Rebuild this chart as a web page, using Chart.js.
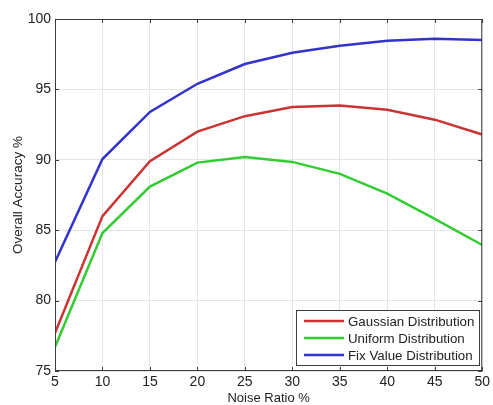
<!DOCTYPE html>
<html>
<head>
<meta charset="utf-8">
<script src="https://cdn.jsdelivr.net/npm/chart.js@4/dist/chart.umd.min.js"></script>
<style>
  html, body { margin: 0; padding: 0; background: #fff; }
  #wrap { width: 493px; height: 405px; position: relative; }
</style>
</head>
<body>
<div id="wrap"><canvas id="chart" width="493" height="405"></canvas></div>
<script>
// data
const noiseRatio = [5, 10, 15, 20, 25, 30, 35, 40, 45, 50];
const gaussian = [77.7, 86.0, 89.9, 92.0, 93.1, 93.75, 93.85, 93.55, 92.85, 91.8];
const uniform = [76.7, 84.8, 88.1, 89.8, 90.2, 89.85, 89.0, 87.6, 85.8, 83.95];
const fixValue = [82.75, 90.05, 93.4, 95.4, 96.8, 97.6, 98.1, 98.45, 98.6, 98.5];
const seriesLabels = ['Gaussian Distribution', 'Uniform Distribution', 'Fix Value Distribution'];
const seriesColors = ['#cc3333', '#33cc33', '#3333cc'];

const FONT = '"Liberation Sans", Arial, sans-serif';
const toPoints = (ys) => noiseRatio.map((x, i) => ({ x: x, y: ys[i] }));

// box around plot, inward ticks, legend in lower right
const boxPlugin = {
    id: 'boxPlugin',
    afterDatasetsDraw(chart) {
        const { ctx, chartArea: a, scales } = chart;
        ctx.save();
        ctx.strokeStyle = '#3c3c3c';
        ctx.lineWidth = 1;
        ctx.strokeRect(a.left + 0.5, a.top + 0.5, a.right - a.left - 1, a.bottom - a.top - 1);

        const tl = 4;
        ctx.beginPath();
        scales.x.ticks.forEach(t => {
            const px = Math.round(scales.x.getPixelForValue(t.value)) + 0.5;
            ctx.moveTo(px, a.bottom); ctx.lineTo(px, a.bottom - tl);
            ctx.moveTo(px, a.top); ctx.lineTo(px, a.top + tl);
        });
        scales.y.ticks.forEach(t => {
            const py = Math.round(scales.y.getPixelForValue(t.value)) + 0.5;
            ctx.moveTo(a.left, py); ctx.lineTo(a.left + tl, py);
            ctx.moveTo(a.right, py); ctx.lineTo(a.right - tl, py);
        });
        ctx.stroke();

        // legend
        const lx = 296, ly = 310, lw = 183, lh = 55;
        ctx.fillStyle = '#fff';
        ctx.fillRect(lx, ly, lw, lh);
        ctx.strokeStyle = '#3c3c3c';
        ctx.strokeRect(lx + 0.5, ly + 0.5, lw, lh);
        ctx.font = '13.3px ' + FONT;
        ctx.textBaseline = 'middle';
        chart.data.datasets.forEach((ds, i) => {
            const y = ly + 11 + i * 17;
            ctx.strokeStyle = ds.borderColor;
            ctx.lineWidth = 2.5;
            ctx.beginPath();
            ctx.moveTo(lx + 8, y); ctx.lineTo(lx + 48, y);
            ctx.stroke();
            ctx.fillStyle = '#222';
            ctx.fillText(ds.label, lx + 52, y + 1);
        });
        ctx.restore();
    }
};

const datasets = [gaussian, uniform, fixValue].map((ys, i) => ({
    label: seriesLabels[i],
    data: toPoints(ys),
    borderColor: seriesColors[i],
    backgroundColor: seriesColors[i],
    borderWidth: 2.5,
    pointRadius: 0,
    tension: 0,
    fill: false
}));

new Chart(document.getElementById('chart'), {
    type: 'line',
    data: { datasets: datasets },
    options: {
        responsive: false,
        animation: false,
        layout: { padding: { top: 19, right: 8, left: 0, bottom: 0 } },
        plugins: { legend: { display: false }, tooltip: { enabled: false } },
        scales: {
            x: {
                type: 'linear',
                min: 5, max: 50,
                afterFit: (s) => { s.height = 34; },
                ticks: { stepSize: 5, color: '#222', font: { family: FONT, size: 14 }, padding: 3, maxRotation: 0 },
                grid: { color: '#e6e6e6', drawTicks: false },
                border: { display: false },
                title: { display: true, text: 'Noise Ratio %', color: '#222', font: { family: FONT, size: 13 }, padding: { top: 0, bottom: -1 } }
            },
            y: {
                min: 75, max: 100,
                afterFit: (s) => { s.width = 55; },
                ticks: { stepSize: 5, color: '#222', font: { family: FONT, size: 14 }, padding: 4 },
                grid: { color: '#e6e6e6', drawTicks: false },
                border: { display: false },
                title: { display: true, text: 'Overall Accuracy %', color: '#222', font: { family: FONT, size: 13.5 }, padding: { top: 10, bottom: 0 } }
            }
        }
    },
    plugins: [boxPlugin]
});
</script>
</body>
</html>
